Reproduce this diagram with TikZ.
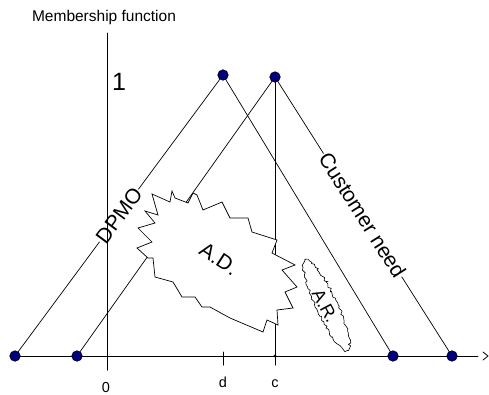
\documentclass[tikz,border=0pt]{standalone}
\usepackage{fontspec}
\setmainfont{Liberation Sans}
\usetikzlibrary{decorations.pathmorphing}
\begin{document}
\begin{tikzpicture}[x=1pt, y=-1pt]
% Membership functions of DPMO and customer need
\def\dotsz{10.5pt}
\providecommand{\mfDotColor}{blue!50!black}
\providecommand{\mfLineWidth}{0.7pt}
\providecommand{\mfAxisWidth}{1pt}
\useasboundingbox (0,0) rectangle (489,394);
\begin{scope}[line cap=round, line join=round,
  dot/.style={circle, fill=\mfDotColor, draw=black, line width=0.6pt, minimum size=\dotsz, inner sep=0pt},
  ticklbl/.style={font=\fontsize{14.5}{16}\selectfont, inner sep=0pt, anchor=base},
  linelbl/.style={sloped, fill=white, inner sep=1pt, font=\fontsize{21}{24}\selectfont},
  burst/.style={draw=black, fill=white, line width=\mfLineWidth, line join=miter}]
  % Corner points of the two triangles
  \coordinate (a1) at (15,356);
  \coordinate (a2) at (77,356);
  \coordinate (a3) at (393,356);
  \coordinate (a4) at (452,356);
  \coordinate (p1) at (223,75);
  \coordinate (p2) at (275,77);
  % Axis ends and ticks
  \coordinate (xbeg) at (12,356);
  \coordinate (xend) at (478,356);
  \coordinate (ytop) at (107,33);
  \coordinate (ybot) at (107,370);
  \coordinate (c) at (275,356);
  \coordinate (cbot) at (275,365);
  \coordinate (dtop) at (223,352);
  \coordinate (dbot) at (223,365);
  % Triangles
  \begin{scope}[line width=\mfLineWidth]
    \draw (a1) -- node[linelbl] (dpmo) {DPMO} (p1);
    \draw (p1) -- (a3);
    \draw (a2) -- (p2);
    \draw (p2) -- node[linelbl, pos=0.495] (need) {Customer need} (a4);
  \end{scope}
  % Axes
  \begin{scope}[line width=\mfAxisWidth]
    \draw (ytop) -- (ybot);
    \draw (p2) -- (cbot);
    \draw (dtop) -- (dbot);
  \end{scope}
  \draw[line width=0.9pt] (xbeg) -- (xend);
  \draw[line width=0.8pt] (483,352) -- (488,356) -- (483,360);
  % Area A.D.
  \draw[burst] (152,194) -- (170,202) -- (172,191) -- (175,198) -- (188,203)
    -- (193,193) -- (197,195) -- (203,210) -- (222,202) -- (230,218)
    -- (248,218) -- (252,232) -- (277,240) -- (272,253) -- (295,265)
    -- (282,270) -- (297,287) -- (285,292) -- (293,308) -- (277,310)
    -- (278,325) -- (267,320) -- (263,332) -- (230,318) -- (210,307)
    -- (202,307) -- (195,297) -- (182,297) -- (173,282) -- (155,277)
    -- (153,258) -- (148,258) -- (137,248) -- (152,242) -- (138,228)
    -- (155,223) -- (145,211) -- (158,215) -- cycle;
  \node[font=\fontsize{21}{24}\selectfont, rotate=-33, inner sep=0pt] (ad) at (219,259) {A.D.};
  % Area A.R.
  \pgfmathsetseed{11}
  \begin{scope}[shift={(326.5,305)}, rotate=-65]
    \draw[burst, line width=0.6pt, decorate, decoration={random steps, segment length=2.2pt, amplitude=1.4pt}]
      (0,0) ellipse [x radius=50, y radius=10.5];
  \end{scope}
  \node[font=\fontsize{18}{20}\selectfont, rotate=-62, inner sep=0pt] (ar) at (325,306) {A.R.};
  % Dots
  \node[dot] (a1dot) at (a1) {};
  \node[dot] (a2dot) at (a2) {};
  \node[dot] (a3dot) at (a3) {};
  \node[dot] (a4dot) at (a4) {};
  \node[dot] (p1dot) at (p1) {};
  \node[dot] (p2dot) at (p2) {};
  \fill (c) circle (1.6);
  % Labels
  \node[font=\fontsize{15.5}{18}\selectfont, inner sep=0pt, anchor=base] (title) at (104,21) {Membership function};
  \node[font=\fontsize{25}{28}\selectfont, inner sep=0pt, anchor=base] (one) at (119,90) {1};
  \node[ticklbl] (zero) at (106,392) {0};
  \node[ticklbl] (dlbl) at (223,387) {d};
  \node[ticklbl] (clbl) at (275,387) {c};
\end{scope}
\end{tikzpicture}
\end{document}
